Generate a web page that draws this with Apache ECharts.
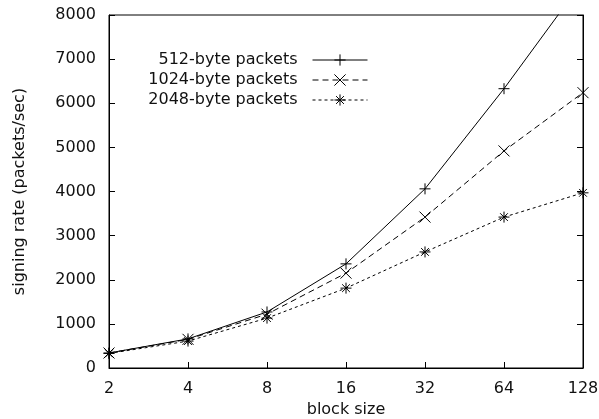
<!DOCTYPE html>
<html><head><meta charset="utf-8">
<script src="https://cdn.jsdelivr.net/npm/echarts@6/dist/echarts.min.js"></script>
<style>html,body{margin:0;padding:0;background:#fff}#c{width:599px;height:419px}</style>
</head><body><div id="c"></div>
<script>
const blockSizes = ['2','4','8','16','32','64','128'];
const rate512 = [340, 660, 1270, 2360, 4060, 6330, 8770];
const rate1024 = [340, 650, 1220, 2150, 3420, 4920, 6240];
const rate2048 = [330, 610, 1130, 1810, 2630, 3420, 3970];
const seriesNames = ['512-byte packets', '1024-byte packets', '2048-byte packets'];
const yTicks = {min: 0, max: 8000, interval: 1000};

const FONT = 'DejaVu Sans';
const TXT = '#111';
const plusSym = 'path://M0,5L10,5M5,0L5,10';
const crossSym = 'path://M0,0L10,10M10,0L0,10';
const starSym = 'path://M0,5L10,5M5,0L5,10M1.5,1.5L8.5,8.5M8.5,1.5L1.5,8.5';

function mkSeries(name, data, sym, size, dash) {
  return {
    name, type: 'line', data, symbol: sym, symbolSize: size,
    showAllSymbol: true, clip: true,
    lineStyle: {color: '#000', width: 1, type: dash},
    itemStyle: {color: '#000', borderColor: '#000', borderWidth: 1},
    emphasis: {disabled: true}, animation: false
  };
}
function mkLegend(name, top) {
  return {
    data: [name], orient: 'vertical', right: 231, top: top, align: 'right',
    itemWidth: 55, itemHeight: 14, padding: 0,
    lineStyle: {width: 1},
    itemStyle: {borderWidth: 1},
    textStyle: {fontFamily: FONT, fontSize: 16, color: TXT, padding: [0, 10, 0, 0]},
    selectedMode: false
  };
}
const chart = echarts.init(document.getElementById('c'));
chart.setOption({
  animation: false,
  backgroundColor: '#fff',
  grid: {left: 109, right: 16, top: 15, bottom: 51, show: true, borderColor: '#000', borderWidth: 1,
         containLabel: false, outerBoundsMode: 'none'},
  legend: [mkLegend(seriesNames[0], 52), mkLegend(seriesNames[1], 72), mkLegend(seriesNames[2], 92)],
  xAxis: {
    type: 'category', data: blockSizes, boundaryGap: false,
    name: 'block size', nameLocation: 'middle', nameGap: 34,
    nameTextStyle: {fontFamily: FONT, fontSize: 16, color: TXT},
    axisLine: {lineStyle: {color: '#000', width: 1}},
    axisTick: {inside: true, length: 6, lineStyle: {color: '#000'}},
    axisLabel: {fontFamily: FONT, fontSize: 16, color: TXT, margin: 13},
    splitLine: {show: false}
  },
  yAxis: [{
    type: 'value', min: yTicks.min, max: yTicks.max, interval: yTicks.interval,
    name: 'signing rate (packets/sec)', nameLocation: 'middle', nameGap: 81,
    nameTextStyle: {fontFamily: FONT, fontSize: 16, color: TXT},
    axisLine: {show: true, lineStyle: {color: '#000', width: 1}},
    axisTick: {show: true, inside: true, length: 6, lineStyle: {color: '#000'}},
    axisLabel: {fontFamily: FONT, fontSize: 16, color: TXT, margin: 13, formatter: v => String(v)},
    splitLine: {show: false}
  }, {
    type: 'value', position: 'right', min: yTicks.min, max: yTicks.max, interval: yTicks.interval,
    axisLine: {show: true, lineStyle: {color: '#000', width: 1}},
    axisTick: {show: true, inside: true, length: 6, lineStyle: {color: '#000'}},
    axisLabel: {show: false}, splitLine: {show: false}
  }],
  series: [
    mkSeries(seriesNames[0], rate512, plusSym, 11, 'solid'),
    mkSeries(seriesNames[1], rate1024, crossSym, 11, [6, 4]),
    mkSeries(seriesNames[2], rate2048, starSym, 11, [3, 3])
  ]
});
</script></body></html>
